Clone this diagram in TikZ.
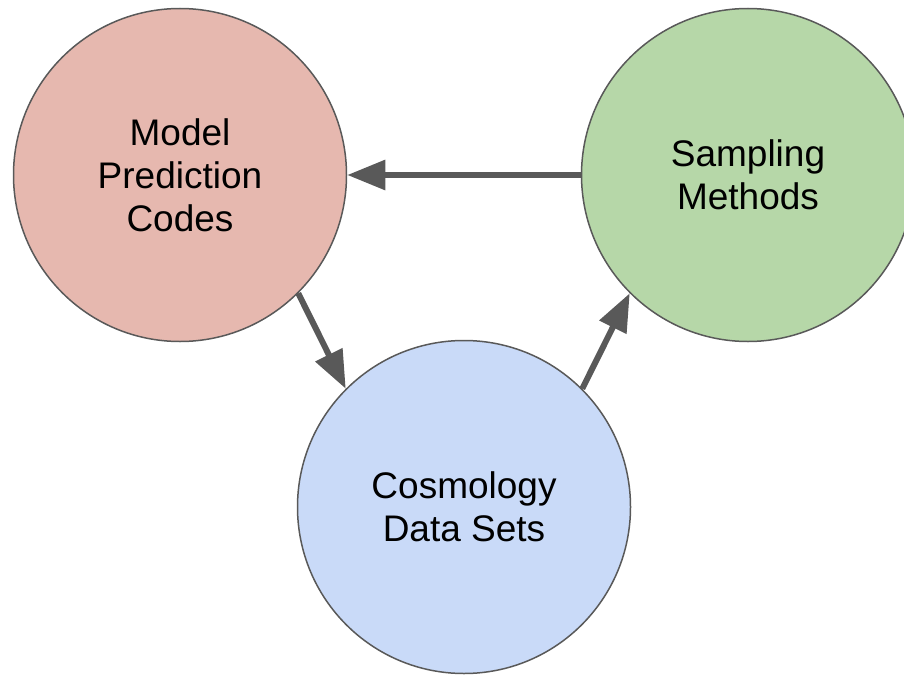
\documentclass[tikz,border=0pt]{standalone}
\usepackage{fontspec}
\setmainfont{Liberation Sans}
\usetikzlibrary{arrows.meta}
\definecolor{redfill}{HTML}{E6B8AF}
\definecolor{greenfill}{HTML}{B6D7A8}
\definecolor{bluefill}{HTML}{C9DAF8}
\definecolor{edge}{HTML}{595959}
\tikzset{
  bubble/.style={circle, draw=edge, line width=1.5pt, minimum size=333pt, inner sep=0pt, align=center,
    font=\fontsize{37}{43}\selectfont},
  conn/.style={draw=edge, line width=6pt, -{Triangle[length=38pt,width=29pt]}}
}
\begin{document}
\begin{tikzpicture}[x=1pt,y=-1pt]
\useasboundingbox (0,0) rectangle (904,674);
\node[bubble, fill=redfill] (model) at (180,175) {Model\\Prediction\\Codes};
\node[bubble, fill=greenfill] (samp) at (748,175) {Sampling\\Methods};
\node[bubble, fill=bluefill] (cosmo) at (464,507) {Cosmology\\Data Sets};
\draw[conn] (samp.west) -- (model.east);
\draw[conn] (model.-45) -- (cosmo.135);
\draw[conn] (cosmo.45) -- (samp.225);
\end{tikzpicture}
\end{document}
